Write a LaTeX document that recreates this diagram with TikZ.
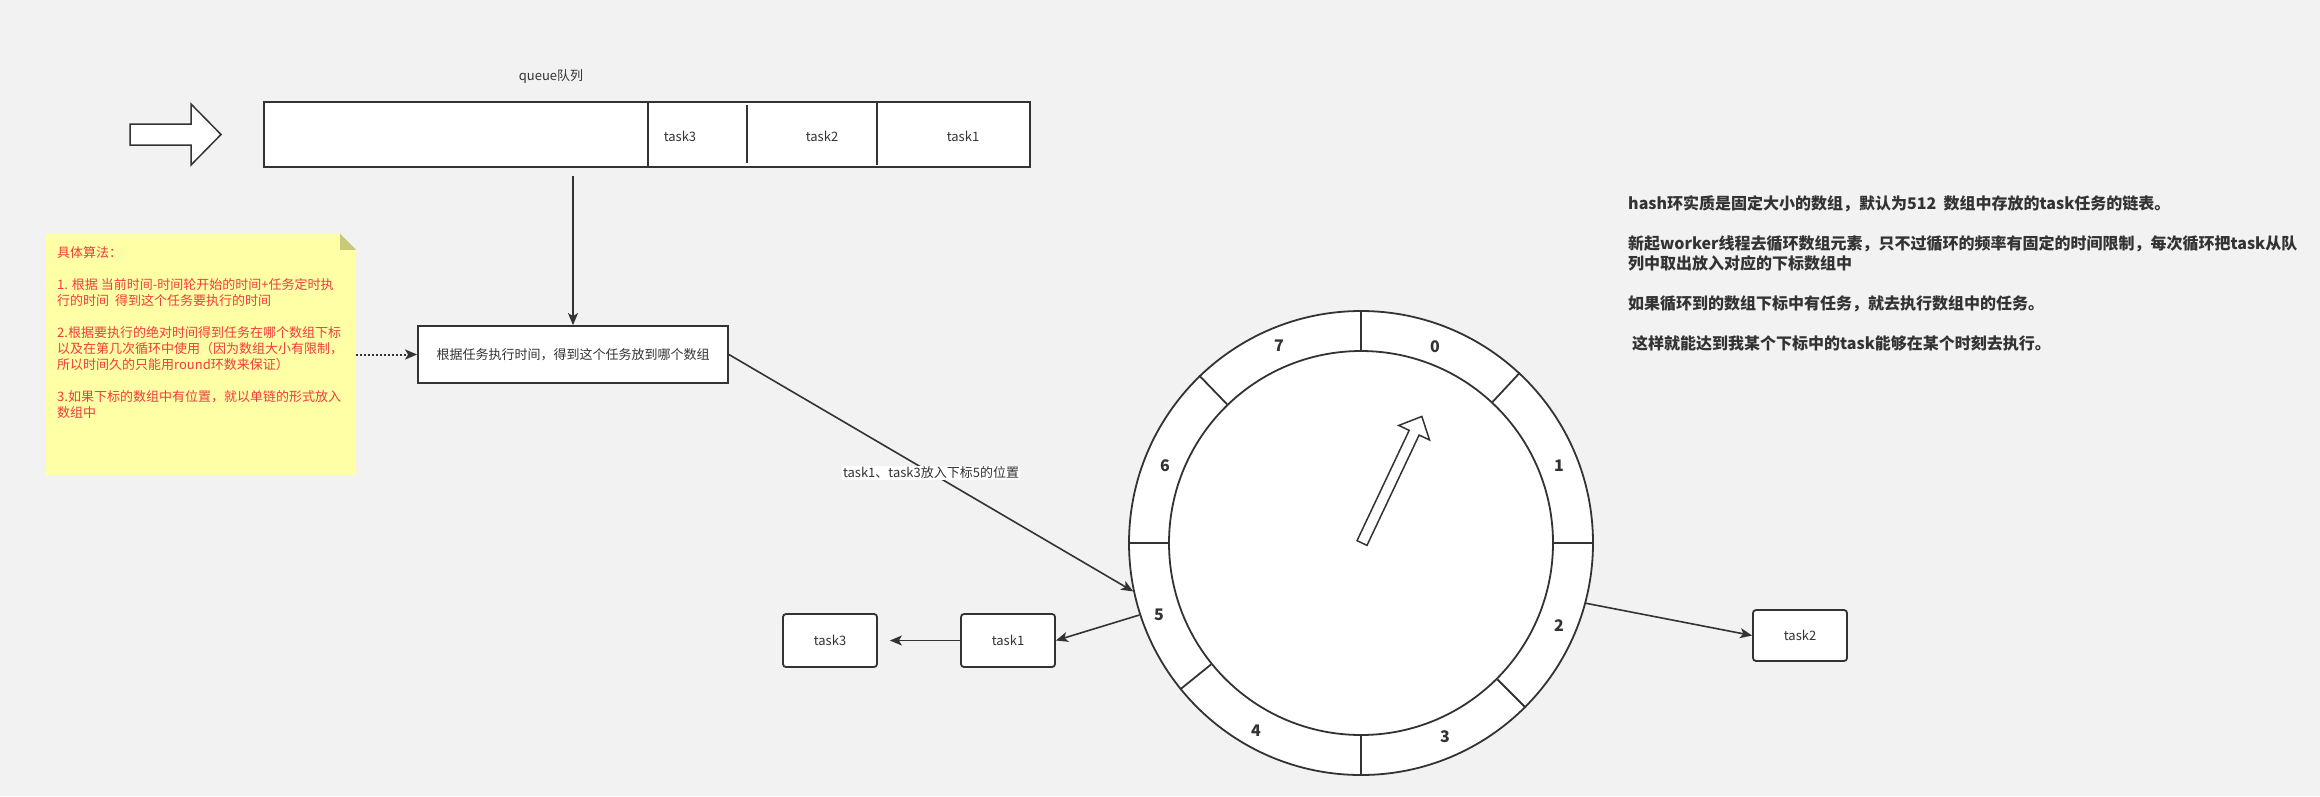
\documentclass[tikz,border=0pt]{standalone}
\usepackage{fontspec}
\setmainfont{Noto Sans CJK SC}
\usetikzlibrary{arrows.meta}
\definecolor{bg}{HTML}{F2F2F2}
\definecolor{ink}{HTML}{333333}
\definecolor{notered}{HTML}{F03C3C}
\definecolor{noteyellow}{HTML}{FFFFA6}
\definecolor{notefold}{HTML}{C9C97A}
\begin{document}
\begin{tikzpicture}[x=1pt,y=-1pt,
  box/.style={draw=ink,fill=white,line width=1.8pt,inner sep=0pt},
  taskbox/.style={box,rounded corners=3pt,minimum width=94pt,minimum height=53pt,text=ink,font=\fontsize{13}{16}\selectfont},
  txt/.style={text=ink,font=\fontsize{13}{16}\selectfont,inner sep=0pt},
  link/.style={draw=ink,line width=1.6pt,-{Stealth[length=12pt,width=10pt,inset=3pt]}},
  seglabel/.style={text=ink,font=\fontsize{16}{16}\selectfont\bfseries,inner sep=0pt}]
\useasboundingbox[fill=bg] (0,0) rectangle (2320,796);

% queue
\node[txt] (qtitle) at (551,77) {queue队列};
\draw[ink,fill=white,line width=1.5pt] (130,124) -- (191,124) -- (191,104) -- (221,134.5) -- (191,165) -- (191,145) -- (130,145) -- cycle;
\node[box,minimum width=766pt,minimum height=65pt] (queue) at (647,134.5) {};
\draw[ink,line width=1.8pt] (648,102) -- (648,167);
\draw[ink,line width=1.8pt] (747,105) -- (747,163);
\draw[ink,line width=1.8pt] (877,103) -- (877,165);
\node[txt] (q3) at (680,136) {task3};
\node[txt] (q2) at (822,136) {task2};
\node[txt] (q1) at (963,136) {task1};

% note
\node[minimum width=310pt,minimum height=241pt,inner sep=0pt] (note) at (201,354.5) {};
\fill[noteyellow] (note.north west) -- ([xshift=-16pt]note.north east) -- ([yshift=-16pt]note.north east) -- (note.south east) -- (note.south west) -- cycle;
\fill[notefold] ([xshift=-16pt]note.north east) -- ([xshift=-16pt,yshift=-16pt]note.north east) -- ([yshift=-16pt]note.north east) -- cycle;
\node[anchor=north west,align=left,text=notered,font=\fontsize{13}{16}\selectfont,inner sep=0pt] (algo) at (57,246) {具体算法：\\[16pt]
1. 根据 当前时间-时间轮开始的时间+任务定时执\\
行的时间\ \ 得到这个任务要执行的时间\\[16pt]
2.根据要执行的绝对时间得到任务在哪个数组下标\\
以及在第几次循环中使用（因为数组大小有限制，\\
所以时间久的只能用round环数来保证）\\[16pt]
3.如果下标的数组中有位置，就以单链的形式放入\\
数组中};

% process
\node[box,minimum width=310pt,minimum height=57pt,text=ink,font=\fontsize{13}{16}\selectfont] (proc) at (573,354.5) {根据任务执行时间，得到这个任务放到哪个数组};
\coordinate (qout) at (573,176);
\draw[link] (qout) -- (proc.north);
\draw[link,line width=2pt,dash pattern=on 2pt off 2pt] (note.east) -- (proc.west);

% wheel
\node[circle,draw=ink,fill=white,line width=1.8pt,minimum size=464pt,inner sep=0pt] (ring) at (1361,543) {};
\node[circle,draw=ink,fill=white,line width=1.8pt,minimum size=384pt,inner sep=0pt] (hub) at (1361,543) {};
\foreach \a in {90,47,0,-45.5,-90,-141,180,134}
  \draw[ink,line width=1.8pt] (hub.\a) -- (ring.\a);
\foreach \n/\x/\y in {0/1435/347,1/1559/466,2/1559/626,3/1445/737,4/1256/731,5/1159/615,6/1165/466,7/1279/346}
  \node[seglabel] (s\n) at (\x,\y) {\n};
\begin{scope}[shift={(1362,543)},rotate=64.7]
\draw[ink,fill=white,line width=1.5pt] (0,-5.5) -- (122,-5.5) -- (122,-17) -- (140,0) -- (122,17) -- (122,5.5) -- (0,5.5) -- cycle;
\end{scope}

% tasks
\draw[link] (proc.east) -- node[txt,fill=white,inner sep=1pt] (lbl) {task1、task3放入下标5的位置} (ring.192.4);
\node[taskbox] (t1) at (1008,640.5) {task1};
\node[taskbox] (t3) at (830,640.5) {task3};
\node[taskbox,minimum height=51pt] (t2) at (1800,635.5) {task2};
\draw[link] (ring.198.4) -- (t1.east);
\draw[link,shorten >=12pt] (t1.west) -- (t3.east);
\draw[link] (ring.-15.5) -- (t2.west);

% text
\node[anchor=north west,align=left,text=ink,font=\fontsize{16}{20}\selectfont\bfseries,inner sep=0pt] (desc) at (1628,195) {hash环实质是固定大小的数组，默认为512\ \ 数组中存放的task任务的链表。\\[20pt]
新起worker线程去循环数组元素，只不过循环的频率有固定的时间限制，每次循环把task从队\\
列中取出放入对应的下标数组中\\[20pt]
如果循环到的数组下标中有任务，就去执行数组中的任务。\\[20pt]
\hspace{4pt}这样就能达到我某个下标中的task能够在某个时刻去执行。};
\end{tikzpicture}
\end{document}
